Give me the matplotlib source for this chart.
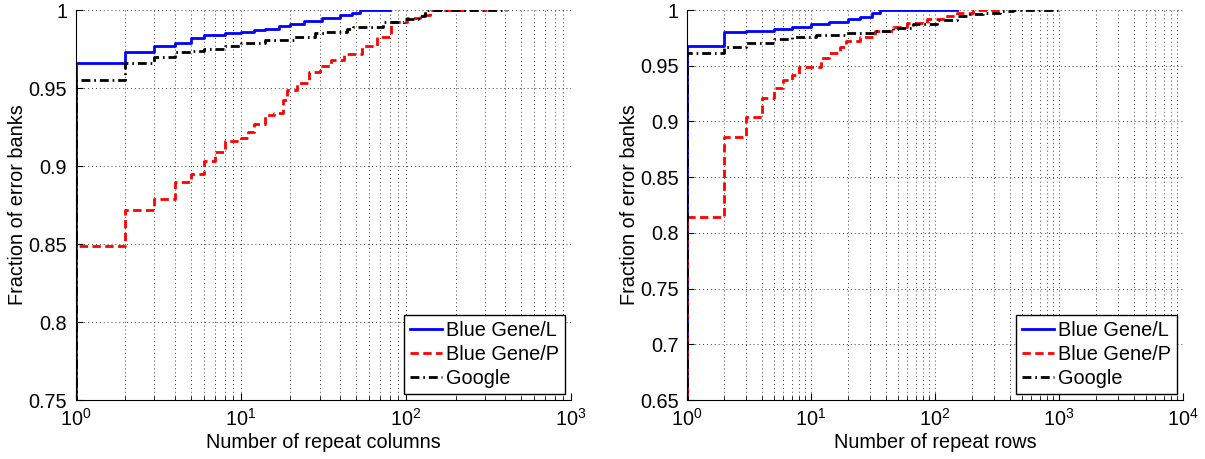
import matplotlib
matplotlib.use("Agg")
import matplotlib.pyplot as plt
from matplotlib.ticker import LogLocator, NullFormatter, FixedLocator

plt.rcParams["font.family"] = ["Liberation Sans", "DejaVu Sans"]
plt.rcParams["font.size"] = 14.3

# CDF of repeat columns per error bank
bgl_col_x = [1, 2, 3, 4, 5, 6, 8, 10, 12, 14, 17, 20, 24, 31, 40, 47, 53, 80]
bgl_col_y = [0.966, 0.973, 0.977, 0.979, 0.982, 0.984, 0.985, 0.986, 0.987, 0.988,
             0.990, 0.991, 0.993, 0.995, 0.997, 0.998, 1.0, 1.0]
bgp_col_x = [1, 2, 3, 4, 5, 6, 7, 8, 10, 11, 12, 14, 16, 18, 19, 22, 26, 30, 35, 42,
             54, 67, 81, 102, 122, 140, 310]
bgp_col_y = [0.849, 0.872, 0.879, 0.890, 0.895, 0.903, 0.909, 0.916, 0.918, 0.922,
             0.927, 0.933, 0.934, 0.942, 0.949, 0.953, 0.960, 0.964, 0.968, 0.972,
             0.977, 0.983, 0.992, 0.995, 0.997, 1.0, 1.0]
ggl_col_x = [1, 2, 3, 4, 5, 6, 8, 10, 14, 21, 28, 33, 44, 48, 73, 97, 119, 131, 410]
ggl_col_y = [0.955, 0.966, 0.970, 0.973, 0.974, 0.975, 0.977, 0.979, 0.981, 0.9825,
             0.985, 0.986, 0.988, 0.989, 0.9925, 0.994, 0.996, 1.0, 1.0]

# CDF of repeat rows per error bank
bgl_row_x = [1, 2, 3, 5, 7, 10, 14, 20, 25, 31, 36, 150]
bgl_row_y = [0.968, 0.980, 0.981, 0.983, 0.985, 0.987, 0.989, 0.992, 0.994, 0.997, 1.0, 1.0]
bgp_row_x = [1, 2, 3, 4, 5, 6, 7, 8, 12, 14, 17, 19, 25, 33, 46, 59, 86, 117, 150, 204, 355]
bgp_row_y = [0.814, 0.886, 0.904, 0.921, 0.930, 0.937, 0.942, 0.949, 0.957, 0.961,
             0.967, 0.972, 0.976, 0.981, 0.985, 0.988, 0.992, 0.995, 0.997, 1.0, 1.0]
ggl_row_x = [1, 2, 3, 5, 7, 11, 19, 32, 46, 67, 103, 150, 191, 245, 334, 428, 1050]
ggl_row_y = [0.961, 0.967, 0.970, 0.974, 0.976, 0.978, 0.979, 0.9815, 0.984, 0.987,
             0.991, 0.995, 0.9964, 0.9975, 0.999, 1.0, 1.0]

series_names = ["Blue Gene/L", "Blue Gene/P", "Google"]
styles = [
    dict(color="#0000ff", linestyle="-"),
    dict(color="#ff0000", linestyle=(0, (3, 1.6))),
    dict(color="black", linestyle=(0, (3.2, 1.4, 0.6, 1.4))),
]


def cdf_panel(ax, curves, xmax, ymin, yticks, ylabels, xlabel):
    for (xs, ys), name, st in zip(curves, series_names, styles):
        # start each staircase from zero so the jump at x=1 is drawn
        ax.step([xs[0]] + xs, [0] + ys, where="post", lw=2, label=name, **st)
    ax.set_xscale("log")
    ax.set_xlim(1, xmax)
    ax.set_ylim(ymin, 1)
    ax.yaxis.set_major_locator(FixedLocator(yticks))
    ax.set_yticklabels(ylabels)
    ax.xaxis.set_major_locator(LogLocator(base=10))
    ax.xaxis.set_minor_locator(LogLocator(base=10, subs=range(2, 10)))
    ax.xaxis.set_minor_formatter(NullFormatter())
    ax.grid(True, which="major", axis="both", color="0.25", lw=0.7, linestyle=(0, (1, 3)))
    ax.grid(True, which="minor", axis="x", color="0.25", lw=0.7, linestyle=(0, (1, 3)))
    for side in ("top", "right"):
        ax.spines[side].set_visible(False)
    ax.tick_params(which="both", direction="in", top=False, right=False)
    ax.tick_params(which="major", length=5, pad=6)
    ax.tick_params(which="minor", length=3)
    ax.set_xlabel(xlabel, labelpad=2)
    ax.set_ylabel("Fraction of error banks", labelpad=1)
    leg = ax.legend(loc="lower right", fancybox=False, edgecolor="black", framealpha=1,
                    borderaxespad=0.3, handlelength=1.6, handletextpad=0.2,
                    labelspacing=0.25, borderpad=0.3)
    leg.get_frame().set_linewidth(1.0)


fig = plt.figure(figsize=(12.05, 4.59), dpi=100)
ax1 = fig.add_axes([0.0627, 0.1285, 0.4112, 0.8497])
ax2 = fig.add_axes([0.5701, 0.1285, 0.4116, 0.8497])

cdf_panel(ax1, [(bgl_col_x, bgl_col_y), (bgp_col_x, bgp_col_y), (ggl_col_x, ggl_col_y)],
          1e3, 0.75, [0.75, 0.8, 0.85, 0.9, 0.95, 1.0],
          ["0.75", "0.8", "0.85", "0.9", "0.95", "1"], "Number of repeat columns")
cdf_panel(ax2, [(bgl_row_x, bgl_row_y), (bgp_row_x, bgp_row_y), (ggl_row_x, ggl_row_y)],
          1e4, 0.65, [0.65, 0.7, 0.75, 0.8, 0.85, 0.9, 0.95, 1.0],
          ["0.65", "0.7", "0.75", "0.8", "0.85", "0.9", "0.95", "1"], "Number of repeat rows")

fig.savefig("out.png", dpi=100)
